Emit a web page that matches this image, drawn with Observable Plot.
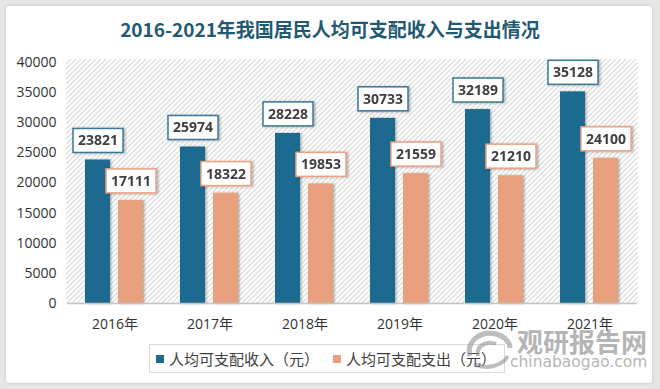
<!DOCTYPE html>
<html><head><meta charset="utf-8">
<script src="https://cdn.jsdelivr.net/npm/d3@7"></script>
<script src="https://cdn.jsdelivr.net/npm/@observablehq/plot@0.6"></script>
<style>
html,body{margin:0;padding:0;background:#e6e6e6;width:660px;height:389px;overflow:hidden;}
#card{position:absolute;left:6px;top:6px;width:646px;height:377px;background:#fff;border-radius:3px;box-shadow:0 0 3px rgba(0,0,0,.18);}
#title{position:absolute;left:0;top:15px;width:660px;text-align:center;font:bold 19px "Noto Sans CJK SC",sans-serif;color:#1f5a72;line-height:28px;}
#chart{position:absolute;left:0;top:45px;}
#legend{position:absolute;left:149px;top:344px;width:356px;height:29px;border:1px solid #dadada;background:#fff;box-sizing:border-box;font:15px "Noto Sans CJK SC",sans-serif;color:#404040;display:flex;align-items:center;}
#legend .item{display:flex;align-items:center;margin-left:6px;}
#legend .sw{width:8px;height:8px;margin-right:5px;}
#wm{position:absolute;left:462px;top:322px;width:190px;height:60px;opacity:.55;pointer-events:none;}
#wm .cn{position:absolute;left:55px;top:0px;font:bold 26px "Noto Sans CJK SC",sans-serif;color:#7a7a7a;letter-spacing:0px;white-space:nowrap;}
#wm .en{position:absolute;left:48px;top:31px;font:15.5px "DejaVu Sans",sans-serif;color:#7a7a7a;white-space:nowrap;}
</style></head>
<body>
<div id="card"></div>
<div id="title">2016-2021年我国居民人均可支配收入与支出情况</div>
<div id="chart"></div>
<div id="legend"></div>
<div id="wm">
<svg width="50" height="44" style="position:absolute;left:2px;top:4px" viewBox="0 0 50 44">
<path d="M6,30 C2,16 16,4 32,8 C40,10 46,16 46,22" fill="none" stroke="#8a8a8a" stroke-width="5"/>
<path d="M14,30 C12,20 22,14 32,18" fill="none" stroke="#8a8a8a" stroke-width="4"/>
<path d="M10,38 C22,44 38,40 44,30" fill="none" stroke="#8a8a8a" stroke-width="4"/>
</svg>
<div class="cn">观研报告网</div>
<div class="en">chinabaogao.com</div>
</div>
<script>
const years = ["2016年", "2017年", "2018年", "2019年", "2020年", "2021年"];
const seriesNames = ["人均可支配收入（元）", "人均可支配支出（元）"];
const income = [23821, 25974, 28228, 30733, 32189, 35128];
const expense = [17111, 18322, 19853, 21559, 21210, 24100];
const yTicks = [0, 5000, 10000, 15000, 20000, 25000, 30000, 35000, 40000];
const colors = ["#1e6a8d", "#e9a07f"];
const borderColors = ["#3a7896", "#e8a385"];

const rows = [];
years.forEach((y, i) => {
  rows.push({year: y, series: seriesNames[0], value: income[i]});
  rows.push({year: y, series: seriesNames[1], value: expense[i]});
});

const W = 660, H = 290, mL = 66, mR = 22, mT = 17, mB = 32;
const chart = Plot.plot({
  width: W, height: H,
  marginLeft: mL, marginRight: mR, marginTop: mT, marginBottom: mB,
  style: {fontFamily: '"Open Sans","Noto Sans CJK SC",sans-serif', fontSize: "14px", color: "#333", background: "transparent", overflow: "visible"},
  fx: {domain: years, padding: 0, label: null, tickSize: 0, tickPadding: 16},
  x: {domain: seriesNames, axis: null, paddingInner: 0.2353, paddingOuter: 0.5176},
  y: {domain: [0, 40000], ticks: yTicks, tickFormat: d => String(d), label: null, tickSize: 0, tickPadding: 11},
  color: {domain: seriesNames, range: colors},
  marks: [
    Plot.barY(rows, {fx: "year", x: "series", y: "value", fill: "series"}),
    Plot.ruleY([0], {stroke: "#c4c4c4", strokeWidth: 1.5}),
    Plot.text(rows.filter(d => d.series === seriesNames[0]), {fx: "year", x: "series", y: "value", text: d => String(d.value), dy: -19, fill: "#404040", fontWeight: "bold", fontSize: 14, ariaLabel: () => "label-income"}),
    Plot.text(rows.filter(d => d.series === seriesNames[1]), {fx: "year", x: "series", y: "value", text: d => String(d.value), dy: -19, fill: "#404040", fontWeight: "bold", fontSize: 14, ariaLabel: () => "label-expense"})
  ]
});
document.getElementById("chart").appendChild(chart);

// hatched background
const ns = "http://www.w3.org/2000/svg";
const svg = chart.tagName.toLowerCase() === "svg" ? chart : chart.querySelector("svg");
const defs = document.createElementNS(ns, "defs");
defs.innerHTML = '<pattern id="hatch" patternUnits="userSpaceOnUse" width="5" height="5"><rect width="5" height="5" fill="#fff"/><path d="M-1,1 l2,-2 M0,5 l5,-5 M4,6 l2,-2" stroke="#dedede" stroke-width="1.3"/></pattern>' +
  '<filter id="sh" x="-20%" y="-10%" width="150%" height="130%"><feDropShadow dx="1.5" dy="0.5" stdDeviation="1" flood-color="#000" flood-opacity="0.3"/></filter>';
svg.insertBefore(defs, svg.firstChild);
const bg = document.createElementNS(ns, "rect");
bg.setAttribute("x", mL); bg.setAttribute("y", mT - 3);
bg.setAttribute("width", W - mL - mR); bg.setAttribute("height", H - mT - mB + 3);
bg.setAttribute("fill", "url(#hatch)");
svg.insertBefore(bg, defs.nextSibling);

svg.querySelectorAll('g[aria-label="bar"]').forEach(g => g.setAttribute("filter", "url(#sh)"));

// label boxes
[["label-income", borderColors[0]], ["label-expense", borderColors[1]]].forEach(([lab, col]) => {
  const texts = Array.from(svg.querySelectorAll(`[aria-label="${lab}"]`)).flatMap(el =>
    el.tagName.toLowerCase() === "text" ? [el] : Array.from(el.querySelectorAll("text")));
  texts.forEach(t => {
    const b = t.getBBox();
    const r = document.createElementNS(ns, "rect");
    const w = b.width + 10, h = 24;
    r.setAttribute("x", b.x + b.width / 2 - w / 2);
    r.setAttribute("y", b.y + b.height / 2 - h / 2 + 0.5);
    r.setAttribute("width", w); r.setAttribute("height", h);
    r.setAttribute("fill", "#fff"); r.setAttribute("stroke", col); r.setAttribute("stroke-width", "1.5");
    r.setAttribute("filter", "url(#sh)");
    if (t.getAttribute("transform")) r.setAttribute("transform", t.getAttribute("transform"));
    t.parentNode.insertBefore(r, t);
  });
});

// legend
const leg = document.getElementById("legend");
seriesNames.forEach((s, i) => {
  const it = document.createElement("div");
  it.className = "item";
  if (i === 1) it.style.marginLeft = "14px";
  it.innerHTML = `<span class="sw" style="background:${colors[i]}"></span><span>${s}</span>`;
  leg.appendChild(it);
});
</script>
</body></html>
